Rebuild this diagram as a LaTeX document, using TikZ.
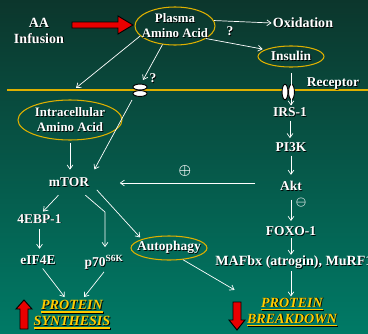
\documentclass[tikz,border=0pt]{standalone}
\usepackage{fontspec}
\setmainfont{Liberation Serif}
\usepackage{xcolor}
\usepackage{tikz}
\usetikzlibrary{shapes.geometric,arrows.meta}

\definecolor{gold}{RGB}{222,176,0}
\definecolor{protyellow}{RGB}{255,204,0}
\definecolor{bgtop}{RGB}{12,54,44}
\definecolor{bgbot}{RGB}{0,122,102}
\definecolor{blockred}{RGB}{232,0,0}

\newcommand{\shd}[1]{\rlap{\kern0.7pt\raisebox{-0.7pt}{\color{black}#1}}#1}
\newcommand{\ulin}[1]{\setbox0\hbox{#1}\rlap{\rule[-2.8pt]{\wd0}{1.3pt}}\box0}

\tikzset{
  lbl/.style={text=white, font=\fontsize{11.5}{13.5}\selectfont\bfseries, inner sep=1pt, align=center},
  oval/.style={lbl, ellipse, draw=gold, line width=0.9pt, inner sep=-1cm},
  sign/.style={text=white, font=\fontsize{12}{12}\selectfont\boldmath, inner sep=0pt},
  arr/.style={white, line width=0.6pt, -{Straight Barb[length=3.5pt,width=5pt]}},
  result/.style={text=protyellow, font=\fontsize{12}{13.6}\selectfont\bfseries\itshape, inner sep=1pt, align=center},
  blockarrow/.style={fill=blockred, draw=black, line width=0.8pt},
  pore/.style={fill=white, draw=black, line width=0.8pt}
}

\begin{document}
\begin{tikzpicture}[x=0.03cm, y=-0.03cm]
     \useasboundingbox (0,0) rectangle (368,333);
     \fill[top color=bgtop, bottom color=bgbot] (0,0) rectangle (368,333);

     \draw[gold, line width=1.2pt] (7,90) -- (368,90);

     \node[lbl, font=\fontsize{12}{13.6}\selectfont\bfseries] (infusion) at (39,31) {\shd{AA}\\\shd{Infusion}};
     \node[oval, minimum width=2.4cm, minimum height=1.14cm, font=\fontsize{11}{12.8}\selectfont\bfseries] (plasma) at (175,26) {\shd{Plasma}\\\shd{Amino Acid}};
     \node[lbl, font=\fontsize{12}{14}\selectfont\bfseries] (oxid) at (303,23) {\shd{Oxidation}};
     \node[oval, minimum width=1.98cm, minimum height=0.63cm] (insulin) at (291,56.5) {\shd{Insulin}};
     \node[lbl] (qa) at (230,32) {\shd{?}};
     \node[lbl] (qb) at (153,79) {\shd{?}};
     \node[lbl] (recep) at (333,84) {\shd{Receptor}};
     \node[oval, minimum width=3.12cm, minimum height=1.2cm, font=\fontsize{11}{12.5}\selectfont\bfseries] (intra) at (70,120) {\shd{Intracellular}\\\shd{Amino Acid}};
     \node[lbl] (mtor) at (69,183) {\shd{mTOR}};
     \node[lbl] (irs) at (290,113) {\shd{IRS-1}};
     \node[lbl] (pik) at (291,148) {\shd{PI3K}};
     \node[lbl] (akt) at (291,186) {\shd{Akt}};
     \node[lbl] (foxo) at (291,232) {\shd{FOXO-1}};
     \node[lbl, anchor=west, font=\fontsize{12}{14}\selectfont\bfseries] (mafbx) at (214,263) {\shd{MAFbx (atrogin), MuRF1}};
     \node[lbl] (ebp) at (39.5,219) {\shd{4EBP-1}};
     \node[lbl] (eif) at (38,261) {\shd{eIF4E}};
     \node[lbl] (psk) at (104,263) {\shd{p70\textsuperscript{S6K}}};
     \node[oval, minimum width=2.28cm, minimum height=0.72cm] (autoph) at (169,248) {\shd{Autophagy}};
     \node[sign] (plus) at (185,171) {$\oplus$};
     \node[sign, font=\fontsize{10}{10}\selectfont\boldmath] (minus) at (301,203) {$\ominus$};
     \node[result] (synth) at (72,315) {\shd{\ulin{PROTEIN}}\\\shd{\ulin{SYNTHESIS}}};
     \node[result] (bdown) at (292,312.5) {\shd{\ulin{PROTEIN}}\\\shd{\ulin{BREAKDOWN}}};

     \draw[blockarrow] (72,22) -- (118,22) -- (118,16) -- (133,25) -- (118,34) -- (118,28) -- (72,28) -- cycle;
     \draw[blockarrow] (24,300) -- (32,309) -- (28,309) -- (28,329) -- (20,329) -- (20,309) -- (16,309) -- cycle;
     \draw[blockarrow] (233,302) -- (241,302) -- (241,320) -- (245,320) -- (237,330) -- (229,320) -- (233,320) -- cycle;

     \draw[pore] (140,87) ellipse [x radius=6pt, y radius=2.5pt];
     \draw[pore] (140,93.5) ellipse [x radius=6pt, y radius=2.5pt];
     \draw[pore] (285,92) ellipse [x radius=2.5pt, y radius=6.6pt];
     \draw[pore] (291.5,92) ellipse [x radius=2.5pt, y radius=6.6pt];

     \coordinate (memb) at (76,88);
     \coordinate (chanin) at (143,80);
     \coordinate (chanout) at (132,100);
     \coordinate (bend) at (105,212);

     \draw[arr] (plasma.8) -- (oxid.west);
     \draw[arr, shorten >=2pt] (plasma.-22) -- (insulin.165);
     \draw[arr] (plasma.196) -- (memb);
     \draw[arr] (plasma.236) -- (chanin);
     \draw[arr, shorten <=5pt, shorten >=1pt] (insulin.south) -- (insulin.south |- irs.north);
     \draw[arr, shorten >=7pt] (chanout) -- (mtor.north east);
     \draw[arr, shorten <=2pt, shorten >=6pt] (intra.south) -- (intra.south |- mtor.north);
     \draw[arr, shorten <=20pt, shorten >=25pt] (mtor.east -| akt.west) -- (mtor.east);

     \draw[arr] ([xshift=-9pt,yshift=-5pt]mtor.south) -- ([xshift=3pt,yshift=1pt]ebp.north);
     \draw[arr, shorten <=3pt, shorten >=5pt] (ebp.south) -- (ebp.south |- eif.north);
     \draw[arr, shorten >=6pt] ([xshift=14pt,yshift=-5pt]mtor.south) -- (bend) -- (bend |- psk.north);
     \draw[arr, shorten <=8pt, shorten >=2pt] (mtor.east) -- (autoph.north west);
     \draw[arr, shorten >=11pt] (autoph.-40) -- (bdown.north west);
     \draw[arr, shorten >=2pt] ([xshift=4pt,yshift=-1pt]eif.south) -- ([xshift=-5pt]synth.north);
     \draw[arr, shorten >=2pt] (psk.south) -- ([xshift=9pt]synth.north);

     \draw[arr, shorten <=1pt, shorten >=3pt] (irs.south) -- (irs.south |- pik.north);
     \draw[arr, shorten <=1pt, shorten >=4pt] (pik.south) -- (pik.south |- akt.north);
     \draw[arr, shorten <=6pt, shorten >=4pt] (akt.south) -- (akt.south |- foxo.north);
     \draw[arr] (foxo.south) -- (foxo.south |- mafbx.north);
     \draw[arr] (mafbx.south -| foxo.south) -- (bdown.north -| foxo.south);
\end{tikzpicture}
\end{document}
